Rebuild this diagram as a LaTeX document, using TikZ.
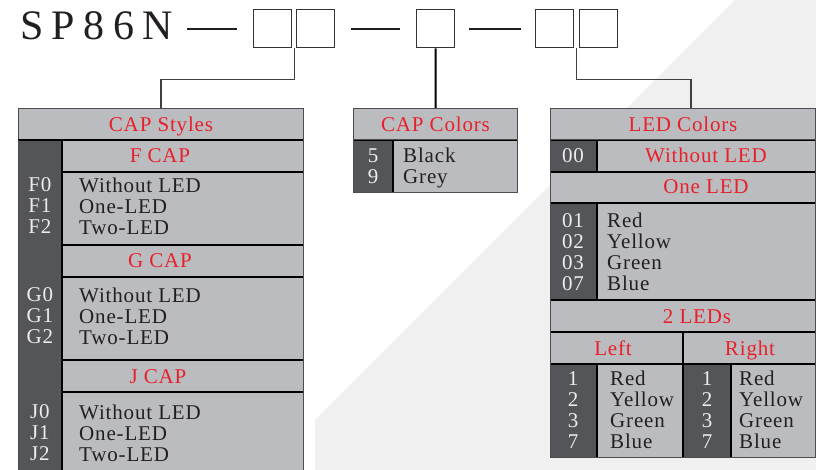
\documentclass[tikz,border=0pt]{standalone}
\usepackage{fontspec}
\setmainfont{Liberation Serif}
\newfontfamily\modelfont[LetterSpace=20]{Liberation Serif}
\newfontfamily\cellfont[LetterSpace=4]{Liberation Serif}
\usepackage{tikz}
\usetikzlibrary{positioning, calc}
\definecolor{cellgray}{HTML}{BBBCC0}
\definecolor{darkcol}{HTML}{545558}
\definecolor{capred}{HTML}{E8202A}
\definecolor{inkgray}{HTML}{231F20}
\definecolor{backgray}{HTML}{F0F0F0}

\begin{document}
\begin{tikzpicture}[x=1pt,y=-1pt]
  \tikzstyle{slot}=[draw=black!80, line width=1.4pt, fill=white, minimum size=38pt, inner sep=0pt, anchor=north west]
  \tikzstyle{head}=[draw=black!70, line width=1pt, fill=cellgray, minimum height=32pt, inner sep=0pt, text depth=0pt, anchor=north west, text=capred, font=\cellfont\fontsize{21}{21}\selectfont]
  \tikzstyle{redtxt}=[text=capred, inner sep=0pt, anchor=base, font=\cellfont\fontsize{21}{21}\selectfont]
  \tikzstyle{codes}=[text=white!93!black, inner sep=0pt, align=center, font=\cellfont\fontsize{21}{21}\selectfont]
  \tikzstyle{items}=[text=inkgray, inner sep=0pt, anchor=west, align=left, font=\cellfont\fontsize{21}{21}\selectfont]
  \tikzstyle{sep}=[black, line width=1.6pt]
  \tikzstyle{frame}=[black!70, line width=1pt]
  \tikzstyle{dashline}=[inkgray, line width=2pt]

  \useasboundingbox (0,0) rectangle (816,470);
  \fill[backgray] (315,470) -- (315,420) -- (735,0) -- (816,0) -- (816,470) -- cycle;

  % part number
  \node[anchor=base west, inner sep=0pt, text=inkgray, font=\modelfont\fontsize{42}{42}\selectfont] (model) at (20,40) {SP86N};
  \node[slot] (b1) at (253,9) {};
  \node[slot] (b2) at (296,9) {};
  \node[slot] (b3) at (416,9) {};
  \node[slot] (b4) at (535,9) {};
  \node[slot] (b5) at (579,9) {};
  \draw[dashline] ([xshift=-66]b1.west) -- ([xshift=-16]b1.west);
  \draw[dashline] ([xshift=16]b2.east) -- ([xshift=-16]b3.west);
  \draw[dashline] ([xshift=14]b3.east) -- ([xshift=-14]b4.west);
  \coordinate (j1) at ($(b1.south east)!0.5!(b2.south west)$);
  \coordinate (j2) at ($(b4.south east)!0.5!(b5.south west)$);

  % CAP Styles
  \node[head, minimum width=285pt] (styles) at (18,108) {CAP Styles};
  \fill[cellgray] (18,140) rectangle (303,476);
  \fill[darkcol] (18,140) rectangle (62,476);
  \draw[sep] (18,140) -- (303,140);
  \draw[sep] (62,140) -- (62,476);
  \draw[sep] (62,172) -- (303,172);
  \draw[sep] (62,245) -- (303,245);
  \draw[sep] (62,277) -- (303,277);
  \draw[sep] (62,360) -- (303,360);
  \draw[sep] (62,392) -- (303,392);
  \draw[frame] (18,140) -- (18,476);
  \draw[frame] (303,140) -- (303,476);
  \node[redtxt] (fcap) at (160,163) {F CAP};
  \node[redtxt] (gcap) at (160,268) {G CAP};
  \node[redtxt] (jcap) at (158,383) {J CAP};
  \node[codes] (fcodes) at (40,206) {F0\\F1\\F2};
  \node[items] (fitems) at (79,206) {Without LED\\One-LED\\Two-LED};
  \node[codes] (gcodes) at (40,316) {G0\\G1\\G2};
  \node[items] (gitems) at (79,316) {Without LED\\One-LED\\Two-LED};
  \node[codes] (jcodes) at (40,433) {J0\\J1\\J2};
  \node[items] (jitems) at (79,433) {Without LED\\One-LED\\Two-LED};

  % CAP Colors
  \node[head, minimum width=164pt] (capcol) at (353,108) {CAP Colors};
  \fill[cellgray] (353,140) rectangle (517,193);
  \fill[darkcol] (353,140) rectangle (393,193);
  \draw[sep] (353,140) -- (517,140);
  \draw[sep] (393,140) -- (393,193);
  \draw[frame] (353,140) rectangle (517,193);
  \node[codes] (colcodes) at (373,166) {5\\9};
  \node[items] (colitems) at (403,168) {Black\\Grey};

  % LED Colors
  \node[head, minimum width=265pt] (ledcol) at (550,108) {LED Colors};
  \fill[cellgray] (550,140) rectangle (815,457);
  \fill[darkcol] (550,140) rectangle (597,172);
  \fill[darkcol] (550,203) rectangle (597,300);
  \fill[darkcol] (550,364) rectangle (597,457);
  \fill[darkcol] (683,364) rectangle (731,457);
  \draw[sep] (550,140) -- (815,140);
  \draw[sep] (550,172) -- (815,172);
  \draw[sep] (550,203) -- (815,203);
  \draw[sep] (550,300) -- (815,300);
  \draw[sep] (550,332) -- (815,332);
  \draw[sep] (550,364) -- (815,364);
  \draw[sep] (597,140) -- (597,172);
  \draw[sep] (597,203) -- (597,300);
  \draw[sep] (597,364) -- (597,457);
  \draw[sep] (683,332) -- (683,457);
  \draw[sep] (731,364) -- (731,457);
  \draw[frame] (550,140) rectangle (815,457);
  \node[codes, anchor=base] (c00) at (573,163) {00};
  \node[redtxt] (noled) at (706,163) {Without LED};
  \node[redtxt] (oneled) at (706,194) {One LED};
  \node[codes] (onecodes) at (573,252) {01\\02\\03\\07};
  \node[items] (oneitems) at (607,252) {Red\\Yellow\\Green\\Blue};
  \node[redtxt] (twoled) at (697,323) {2 LEDs};
  \node[redtxt] (left) at (613,355) {Left};
  \node[redtxt] (right) at (750,355) {Right};
  \node[codes] (lcodes) at (573,410) {1\\2\\3\\7};
  \node[items] (litems) at (610,410) {Red\\Yellow\\Green\\Blue};
  \node[codes] (rcodes) at (707,410) {1\\2\\3\\7};
  \node[items] (ritems) at (739,410) {Red\\Yellow\\Green\\Blue};

  % connectors
  \draw[black!75, line width=1.2pt] (j1) -- ++(0,31) -| (styles.north);
  \draw[black, line width=2pt] (b3.south) -- (capcol.north);
  \draw[black!75, line width=1.2pt] (j2) -- ++(0,31) -| ([xshift=8pt]ledcol.north);
\end{tikzpicture}
\end{document}
